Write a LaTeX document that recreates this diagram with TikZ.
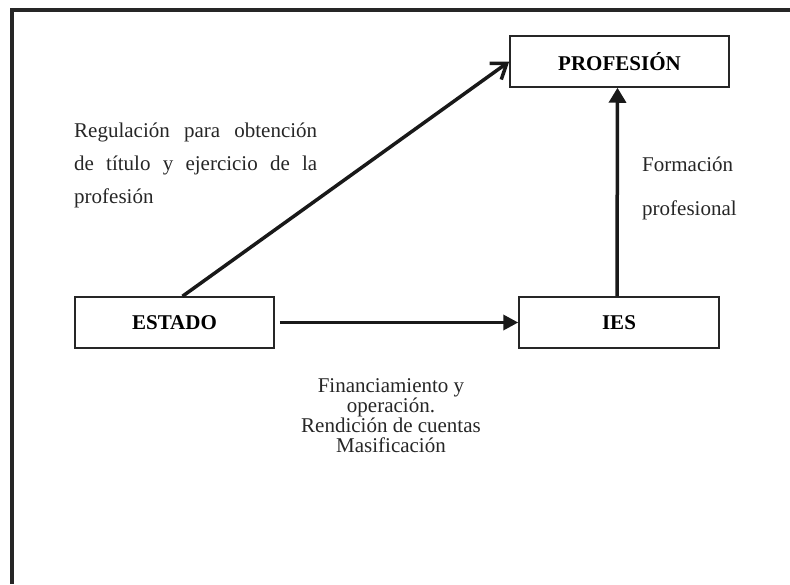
\documentclass[tikz,border=0pt]{standalone}
\usepackage{fontspec}
\setmainfont{Liberation Serif}
\usetikzlibrary{arrows.meta}
\newcommand\singuion{\hyphenpenalty=10000\relax\tolerance=10000\relax}
\tikzset{
  caja/.style={draw=black!85, line width=1.5pt, minimum width=200pt, minimum height=51pt, inner sep=0pt, font=\fontsize{21}{24}\selectfont\bfseries},
  flecha/.style={line width=3.5pt, draw=black!90, -{Triangle[length=15pt,width=15pt]}},
  texto/.style={inner sep=0pt, text=black!85}
}

\begin{document}
\begin{tikzpicture}[x=1pt,y=-1pt]
		%%%%% START %%%%%
		\useasboundingbox (0,0) rectangle (790,584);
		
		\draw[line width=4.5pt, color=black!85] (790,10) -- (12,10) -- (12,584);
		
		\node[caja, minimum width=219pt] (profesion) at (619.5,61.5) {PROFESIÓN};
		\node[caja, minimum width=199pt] (estado) at (174.5,322.5) {ESTADO};
		\node[caja] (ies) at (619,322.5) {IES};
		
		\draw[line width=3.5pt, color=black!90, -{Straight Barb[length=14pt,width=20pt]}] ([xshift=8pt]estado.north) -- (profesion.west);
		\draw[flecha] ([xshift=5pt]estado.east) -- (ies.west);
		\draw[flecha, -{Triangle[length=15pt,width=17pt]}] ([xshift=-2pt]ies.north) -- ([xshift=-2pt]profesion.south);
		
		\node[texto, text width=243pt, align=justify, anchor=base west, font=\fontsize{21}{33}\selectfont\singuion] (regulacion) at (74,137) {Regulación para obtención de título y ejercicio de la profesión};
		\node[texto, align=left, anchor=base west, font=\fontsize{21}{44}\selectfont] (formacion) at (642,215) {Formación\\profesional};
		\node[texto, align=center, anchor=base, font=\fontsize{21}{20}\selectfont] (financiamiento) at (391,452) {Financiamiento y\\operación.\\Rendición de cuentas\\Masificación};
		
		%%%%% END %%%%%
	\end{tikzpicture}
\end{document}
